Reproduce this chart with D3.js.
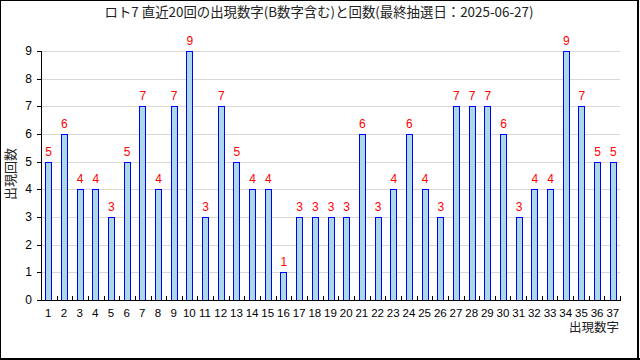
<!DOCTYPE html>
<html><head><meta charset="utf-8">
<script src="https://cdn.jsdelivr.net/npm/d3@7"></script>
<style>body{margin:0;background:#fff}svg{display:block}</style>
</head><body><svg id="c" width="640" height="360"></svg>
<script>
const numbers = d3.range(1, 38).map(String);
const counts = [5,6,4,4,3,5,7,4,7,9,3,7,5,4,4,1,3,3,3,3,6,3,4,6,4,3,7,7,7,6,3,4,4,9,7,5,5];
const yTicks = [0,1,2,3,4,5,6,7,8,9];
const title = "ロト7 直近20回の出現数字(B数字含む)と回数(最終抽選日：2025-06-27)";
const xTitle = "出現数字";
const yTitle = "出現回数";

const svg = d3.select("#c");
const font = "'Noto Sans CJK JP', sans-serif";
const numFont = "'Liberation Sans', Arial, sans-serif";
const L = 41, R = 620, T = 51, B = 300;
const x = d3.scaleBand().domain(numbers).range([L, R]).paddingInner(0.62).paddingOuter(0.27);
const xb = d3.scaleLinear().domain([0, numbers.length]).range([L, R]);
const y = d3.scaleLinear().domain([0, 9]).range([B, T]);

// frame
svg.append("rect").attr("x",0.5).attr("y",0.5).attr("width",637.5).attr("height",358.5)
  .attr("fill","none").attr("stroke","#000").attr("stroke-width",1);
svg.append("line").attr("x1",638).attr("x2",638).attr("y1",0).attr("y2",360).attr("stroke","#000").attr("stroke-width",2);
svg.append("line").attr("x1",0).attr("x2",640).attr("y1",359).attr("y2",359).attr("stroke","#000").attr("stroke-width",2);

// grid
svg.append("g").selectAll("line").data(yTicks.filter(d=>d>0)).join("line")
  .attr("x1", L).attr("x2", R).attr("y1", d=>Math.round(y(d))+0.5).attr("y2", d=>Math.round(y(d))+0.5)
  .attr("stroke","#d8d8d8").attr("stroke-width",1);

// bars
svg.append("g").selectAll("rect").data(counts).join("rect")
  .attr("x", (d,i)=>Math.round(x(numbers[i]))+0.5)
  .attr("y", d=>Math.round(y(d))+0.5)
  .attr("width", Math.round(x.bandwidth()))
  .attr("height", d=>Math.round(y(0))-Math.round(y(d)))
  .attr("fill","#add8e6").attr("stroke","#0000ff").attr("stroke-width",1);

// value labels
svg.append("g").selectAll("text").data(counts).join("text")
  .attr("x", (d,i)=>x(numbers[i])+x.bandwidth()/2+0.5)
  .attr("y", d=>y(d)-6)
  .attr("text-anchor","middle").attr("fill","#ff0000")
  .style("font-family",numFont).style("font-size","12px")
  .text(d=>d);

// y axis
const ya = svg.append("g");
ya.append("line").attr("x1",L+0.5).attr("x2",L+0.5).attr("y1",T).attr("y2",B+1).attr("stroke","#000");
ya.selectAll("line.t").data(yTicks).join("line").attr("class","t")
  .attr("x1",L-4).attr("x2",L+1).attr("y1",d=>Math.round(y(d))+0.5).attr("y2",d=>Math.round(y(d))+0.5).attr("stroke","#000");
ya.selectAll("text").data(yTicks).join("text")
  .attr("x", 32).attr("y", d=>y(d)+4).attr("text-anchor","end")
  .style("font-family",numFont).style("font-size","12px").text(d=>d);

// x axis
const xa = svg.append("g");
xa.append("line").attr("x1",L).attr("x2",R+1).attr("y1",B+0.5).attr("y2",B+0.5).attr("stroke","#000");
xa.selectAll("line.t").data(d3.range(0, numbers.length+1)).join("line").attr("class","t")
  .attr("x1",d=>Math.round(xb(d))+0.5).attr("x2",d=>Math.round(xb(d))+0.5).attr("y1",B-4).attr("y2",B+1).attr("stroke","#000");
xa.selectAll("text").data(numbers).join("text")
  .attr("x", d=>x(d)+x.bandwidth()/2).attr("y", 316.5).attr("text-anchor","middle")
  .style("font-family",numFont).style("font-size","11.5px").text(d=>d);

// titles
svg.append("text").attr("x",319).attr("y",17).attr("text-anchor","middle")
  .style("font-family",font).style("font-size","13.4px").attr("fill","#222").text(title);
svg.append("text").attr("x",619).attr("y",332).attr("text-anchor","end")
  .style("font-family",font).style("font-size","12.5px").attr("fill","#222").text(xTitle);
svg.append("text").attr("transform","translate(15,174) rotate(-90)").attr("text-anchor","middle")
  .style("font-family",font).style("font-size","13px").attr("fill","#222").text(yTitle);
</script></body></html>
